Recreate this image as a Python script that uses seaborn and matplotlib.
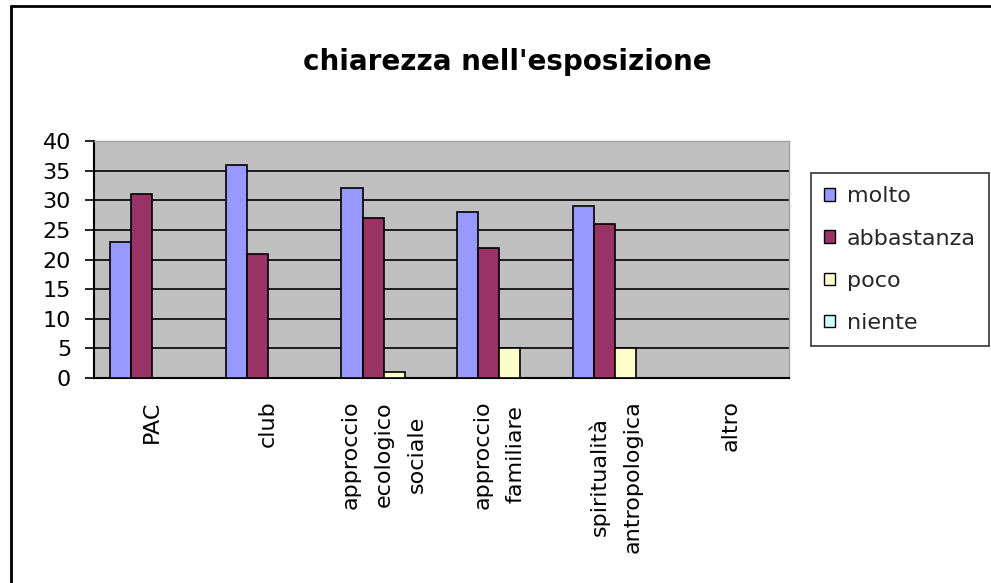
import matplotlib
matplotlib.use("Agg")
import matplotlib.pyplot as plt
import seaborn as sns
import pandas as pd
from matplotlib.lines import Line2D

categories = ["PAC", "club", "approccio\necologico\nsociale", "approccio\nfamiliare",
              "spiritualità\nantropologica", "altro"]
series = ["molto", "abbastanza", "poco", "niente"]
molto = [23, 36, 32, 28, 29, 0]
abbastanza = [31, 21, 27, 22, 26, 0]
poco = [0, 0, 1, 5, 5, 0]
niente = [0, 0, 0, 0, 0, 0]
colors = ["#9999FF", "#993366", "#FFFFCC", "#CCFFFF"]
title = "chiarezza nell'esposizione"

sns.set_theme(style="white")
plt.rcParams['font.family'] = ['DejaVu Sans']

rows = []
for s, vals in zip(series, [molto, abbastanza, poco, niente]):
    for c, v in zip(categories, vals):
        rows.append({"cat": c, "serie": s, "val": v})
df = pd.DataFrame(rows)

fig = plt.figure(figsize=(9.91, 5.83), dpi=100)
ax = fig.add_axes([94/991, 1-378/583, (789-94)/991, (378-141)/583])
ax.set_facecolor("#C0C0C0")

sns.barplot(data=df, x="cat", y="val", hue="serie", order=categories, hue_order=series,
            palette=colors, width=0.727, edgecolor="black", linewidth=1.2,
            saturation=1, ax=ax, legend=False, zorder=3)

ax.set_ylim(0, 40)
ax.set_xlim(-0.5, len(categories) - 0.5)
ax.set_yticks(range(0, 41, 5))
ax.grid(axis="y", color="black", linewidth=1.2, zorder=0)
ax.set_axisbelow(True)
ax.set_xlabel("")
ax.set_ylabel("")

ax.set_xticks(range(len(categories)))
ax.set_xticklabels(categories, rotation=90, va="top", ha="center",
                   multialignment="center", linespacing=1.8, fontsize=16)
ax.set_xticks([i - 0.5 for i in range(len(categories) + 1)], minor=True)
ax.tick_params(axis="x", which="major", length=0, pad=16)
ax.tick_params(axis="x", which="minor", length=6, width=1.2, color="black", direction="out")
ax.tick_params(axis="y", length=6.5, width=1.2, color="black", direction="out", pad=10,
               labelsize=16, left=True)
for lab in ax.get_yticklabels():
    lab.set_color("black")
for lab in ax.get_xticklabels():
    lab.set_color("black")

for side in ["left", "bottom"]:
    ax.spines[side].set_color("black")
    ax.spines[side].set_linewidth(1.5)
for side in ["top", "right"]:
    ax.spines[side].set_color("#A0A0A0")
    ax.spines[side].set_linewidth(1)

fig.text(507/991, 1-62/583, title, ha="center", va="center", fontsize=20,
         fontweight="bold", color="black")

handles = [plt.Rectangle((0, 0), 1, 1, facecolor=c, edgecolor="black", linewidth=1)
           for c in colors]
leg = fig.legend(handles, series, loc="upper left",
                 bbox_to_anchor=(811/991, 1-173/583), fontsize=16,
                 frameon=True, fancybox=False, edgecolor="black",
                 handlelength=0.5, handleheight=0.5, handletextpad=0.5,
                 labelspacing=1.0, borderpad=0.6, borderaxespad=0)
leg.get_frame().set_linewidth(1.2)

fig.add_artist(Line2D([11/991, 11/991], [0, 1-6/583], transform=fig.transFigure,
                      color="black", linewidth=2))
fig.add_artist(Line2D([11/991, 1], [1-6/583, 1-6/583], transform=fig.transFigure,
                      color="black", linewidth=2))

fig.savefig("out.png", dpi=100, facecolor="white")
